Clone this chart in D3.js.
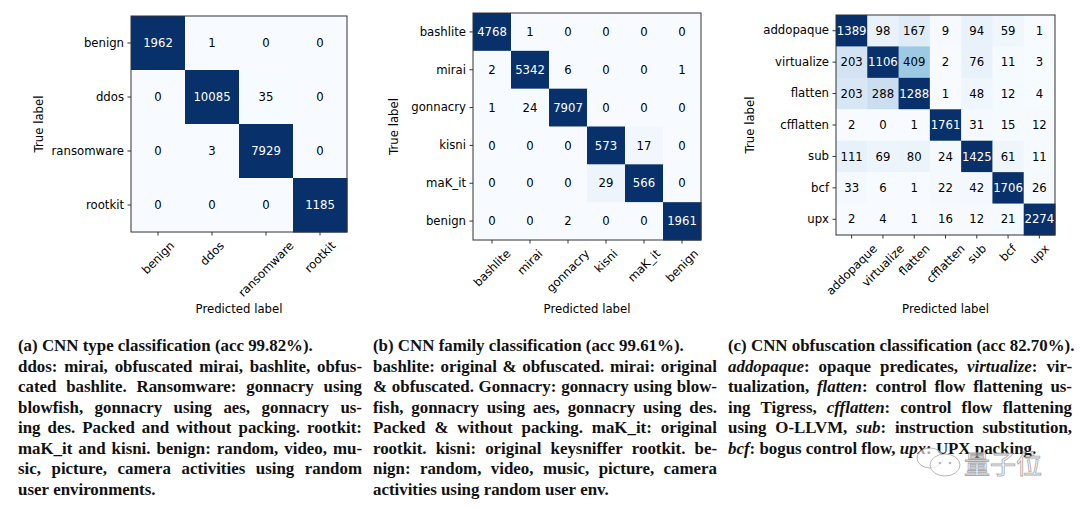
<!DOCTYPE html>
<html>
<head>
<meta charset="utf-8">
<script src="https://cdn.jsdelivr.net/npm/d3@7"></script>
<style>
  html, body { margin: 0; padding: 0; background: #fff; }
  svg { display: block; }
</style>
</head>
<body>
<script>
//
// Three CNN confusion matrices with their captions
//
const typeLabels = ["benign", "ddos", "ransomware", "rootkit"];
const typeMatrix = [
	[1962, 1, 0, 0],
	[0, 10085, 35, 0],
	[0, 3, 7929, 0],
	[0, 0, 0, 1185],
];

const familyLabels = ["bashlite", "mirai", "gonnacry", "kisni", "maK_it", "benign"];
const familyMatrix = [
	[4768, 1, 0, 0, 0, 0],
	[2, 5342, 6, 0, 0, 1],
	[1, 24, 7907, 0, 0, 0],
	[0, 0, 0, 573, 17, 0],
	[0, 0, 0, 29, 566, 0],
	[0, 0, 2, 0, 0, 1961],
];

const obfLabels = ["addopaque", "virtualize", "flatten", "cfflatten", "sub", "bcf", "upx"];
const obfMatrix = [
	[1389, 98, 167, 9, 94, 59, 1],
	[203, 1106, 409, 2, 76, 11, 3],
	[203, 288, 1288, 1, 48, 12, 4],
	[2, 0, 1, 1761, 31, 15, 12],
	[111, 69, 80, 24, 1425, 61, 11],
	[33, 6, 1, 22, 42, 1706, 26],
	[2, 4, 1, 16, 12, 21, 2274],
];

const typeCaption = [
	"(a) CNN type classification (acc 99.82%).",
	"ddos: mirai, obfuscated mirai, bashlite, obfus-",
	"cated bashlite. Ransomware: gonnacry using",
	"blowfish, gonnacry using aes, gonnacry us-",
	"ing des. Packed and without packing. rootkit:",
	"maK_it and kisni. benign: random, video, mu-",
	"sic, picture, camera activities using random",
	"user environments.",
];
const familyCaption = [
	"(b) CNN family classification (acc 99.61%).",
	"bashlite: original & obfuscated. mirai: original",
	"& obfuscated. Gonnacry: gonnacry using blow-",
	"fish, gonnacry using aes, gonnacry using des.",
	"Packed & without packing. maK_it: original",
	"rootkit. kisni: original keysniffer rootkit. be-",
	"nign: random, video, music, picture, camera",
	"activities using random user env.",
];
// *word* marks italic
const obfCaption = [
	"(c) CNN obfuscation classification (acc 82.70%).",
	"*addopaque*: opaque predicates, *virtualize*: vir-",
	"tualization, *flatten*: control flow flattening us-",
	"ing Tigress, *cfflatten*: control flow flattening",
	"using O-LLVM, *sub*: instruction substitution,",
	"*bcf*: bogus control flow, *upx*: UPX packing.",
];

const W = 1080;
const H = 508;
const FONT = "'DejaVu Sans', sans-serif";
const FS = 11.7;
const SERIF = "'Liberation Serif', 'DejaVu Serif', serif";

const panels = [
	{ labels: typeLabels, matrix: typeMatrix, caption: typeCaption,
		box: [131, 347, 16, 232], yLabelX: 39, capX: 18 },
	{ labels: familyLabels, matrix: familyMatrix, caption: familyCaption,
		box: [473, 701, 13, 240], yLabelX: 394, capX: 373 },
	{ labels: obfLabels, matrix: obfMatrix, caption: obfCaption,
		box: [836, 1055, 15, 235], yLabelX: 750, capX: 728 },
];

const svg = d3.select("body").append("svg").attr("width", W).attr("height", H);
const color = d3.scaleSequential(d3.interpolateBlues).domain([0, 1]);

function drawMatrix(p) {
	const [x0, x1, y0, y1] = p.box;
	const n = p.labels.length;
	const idx = d3.range(n);
	const x = d3.scaleBand().domain(idx).range([x0, x1]);
	const y = d3.scaleBand().domain(idx).range([y0, y1]);
	const g = svg.append("g");

	const cells = [];
	p.matrix.forEach((row, i) => {
		const rowMax = d3.max(row);
		row.forEach((v, j) => cells.push({ i, j, v, t: v / rowMax }));
	});

	g.selectAll("rect.cell")
		.data(cells)
		.enter()
		.append("rect")
		.attr("class", "cell")
		.attr("x", (d) => x(d.j))
		.attr("y", (d) => y(d.i))
		.attr("width", x.bandwidth() + 0.5)
		.attr("height", y.bandwidth() + 0.5)
		.style("fill", (d) => color(d.t));

	g.selectAll("text.val")
		.data(cells)
		.enter()
		.append("text")
		.attr("class", "val")
		.attr("x", (d) => x(d.j) + x.bandwidth() / 2)
		.attr("y", (d) => y(d.i) + y.bandwidth() / 2)
		.attr("text-anchor", "middle")
		.attr("dy", "0.36em")
		.text((d) => d.v)
		.style("font-family", FONT)
		.style("font-size", FS + "px")
		.style("fill", (d) => (d.t > 0.5 ? "#ffffff" : "#000000"));

	g.append("rect")
		.attr("x", x0)
		.attr("y", y0)
		.attr("width", x1 - x0)
		.attr("height", y1 - y0)
		.style("fill", "none")
		.style("stroke", "#333")
		.style("stroke-width", "1px");

	// y axis
	const yAxis = g.append("g")
		.attr("transform", `translate(${x0},0)`)
		.call(d3.axisLeft(y).tickSize(3.5).tickPadding(3.5).tickFormat((i) => p.labels[i]));
	yAxis.select(".domain").remove();
	yAxis.selectAll("text")
		.style("font-family", FONT)
		.style("font-size", FS + "px")
		.style("fill", "#000");
	yAxis.selectAll("line").style("stroke", "#333");

	// x axis, labels rotated 45 and centred on the tick
	const xAxis = g.append("g")
		.attr("transform", `translate(0,${y1})`)
		.call(d3.axisBottom(x).tickSize(3.5).tickPadding(3.5).tickFormat((i) => p.labels[i]));
	xAxis.select(".domain").remove();
	xAxis.selectAll("line").style("stroke", "#333");
	xAxis.selectAll("text")
		.style("font-family", FONT)
		.style("font-size", FS + "px")
		.style("fill", "#000")
		.attr("dy", null)
		.attr("text-anchor", "middle")
		.attr("dominant-baseline", "central")
		.each(function () {
			const w = this.getComputedTextLength();
			const h = FS * 1.1;
			const half = (w + h) / (2 * Math.SQRT2);
			d3.select(this)
				.attr("y", null)
				.attr("transform", `translate(0,${7 + half}) rotate(-45)`);
		});

	g.append("text")
		.attr("transform", `translate(${p.yLabelX},${(y0 + y1) / 2}) rotate(-90)`)
		.attr("text-anchor", "middle")
		.attr("dominant-baseline", "central")
		.text("True label")
		.style("font-family", FONT)
		.style("font-size", FS + "px")
		.style("fill", "#000");

	g.append("text")
		.attr("x", (x0 + x1) / 2)
		.attr("y", 313)
		.attr("text-anchor", "middle")
		.text("Predicted label")
		.style("font-family", FONT)
		.style("font-size", FS + "px")
		.style("fill", "#000");
}

// caption text, body lines justified like the paper
const CAP_W = 344;
const CAP_Y = 351;
const CAP_LH = 20.57;

function parseWord(word) {
	const segs = [];
	let italic = false;
	word.split("*").forEach((s, k) => {
		if (k > 0) italic = !italic;
		if (s) segs.push({ s, italic });
	});
	return segs;
}

function addWord(parent, word, capFs) {
	const t = parent.append("text")
		.style("font-family", SERIF)
		.style("font-weight", "bold")
		.style("font-size", capFs + "px")
		.style("fill", "#111");
	parseWord(word).forEach((seg) => {
		t.append("tspan").text(seg.s).style("font-style", seg.italic ? "italic" : "normal");
	});
	return t;
}

function drawCaption(p, capFs) {
	const g = svg.append("g");
	const lines = p.caption;
	const probe = addWord(g, "a a", capFs);
	const probe2 = addWord(g, "aa", capFs);
	const space = probe.node().getComputedTextLength() - probe2.node().getComputedTextLength();
	probe.remove();
	probe2.remove();

	lines.forEach((line, li) => {
		const yy = CAP_Y + li * CAP_LH;
		const words = line.split(" ");
		const els = words.map((w) => addWord(g, w, capFs));
		const widths = els.map((e) => e.node().getComputedTextLength());
		const justify = li > 0 && li < lines.length - 1;
		const gap = justify && words.length > 1
			? (CAP_W - d3.sum(widths)) / (words.length - 1)
			: space;
		let cx = p.capX;
		els.forEach((e, k) => {
			e.attr("x", cx).attr("y", yy);
			cx += widths[k] + gap;
		});
	});
}

panels.forEach(drawMatrix);

// pick caption size so the first title matches the paper width
const test = addWord(svg, typeCaption[0], 16);
const capFs = 16 * 295 / test.node().getComputedTextLength();
test.remove();
panels.forEach((p) => drawCaption(p, capFs));

// watermark
const wm = svg.append("g").style("opacity", 0.85);
wm.append("ellipse").attr("cx", 930).attr("cy", 458).attr("rx", 13).attr("ry", 10)
	.style("fill", "rgba(255,255,255,0.7)").style("stroke", "#aaa").style("stroke-width", 1);
wm.append("ellipse").attr("cx", 945).attr("cy", 465).attr("rx", 15).attr("ry", 11)
	.style("fill", "rgba(255,255,255,0.8)").style("stroke", "#aaa").style("stroke-width", 1);
wm.append("circle").attr("cx", 940).attr("cy", 463).attr("r", 1.3).style("fill", "#aaa");
wm.append("circle").attr("cx", 950).attr("cy", 463).attr("r", 1.3).style("fill", "#aaa");
wm.append("text")
	.attr("x", 964)
	.attr("y", 474)
	.text("量子位")
	.style("font-family", "'Noto Sans CJK SC', sans-serif")
	.style("font-size", "26px")
	.style("fill", "rgba(255,255,255,0.85)")
	.style("stroke", "#999")
	.style("stroke-width", "0.8px");
</script>
</body>
</html>
